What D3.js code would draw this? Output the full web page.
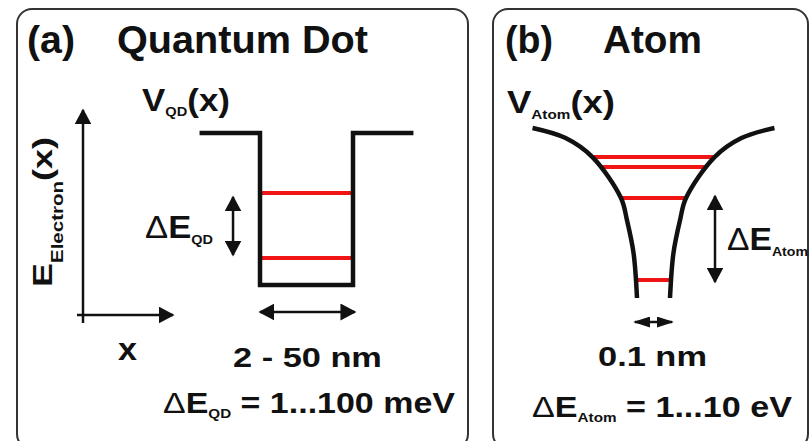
<!DOCTYPE html>
<html>
<head>
<meta charset="utf-8">
<script src="https://cdn.jsdelivr.net/npm/d3@7"></script>
<style>
  body { margin: 0; background: #fff; }
  text { font-family: "Liberation Sans", Arial, Helvetica, sans-serif; font-weight: bold; fill: #111; white-space: pre; }
</style>
</head>
<body>
<div id="wrapper"></div>
<script>
// Quantum dot well: x in half widths of the well, V in barrier heights
const qdWellX = [-2.3, -1, -1, 1, 1, 2.3]
const qdWellV = [1, 1, 0, 0, 1, 1]
const qdLevels = [0.178, 0.605]

// Atom potential, one side: half width (bottom half width = 1) vs energy
const atomHalfWidth = [7.33, 5.33, 3.70, 1.97, 1.61, 1.21, 1.0]
const atomEnergy = [1.0, 0.941, 0.829, 0.588, 0.459, 0.265, 0]
const atomLevels = [0.106, 0.588, 0.771, 0.829]

function drawSketch() {
  // Define Dimensions
    let dimensions = {
        width: 811,
        height: 441,
    }
    const ink = "#111"
    const red = "#f01414"

  // Draw Canvas
    const svg = d3.select("#wrapper")
        .append("svg")
            .attr("width", dimensions.width)
            .attr("height", dimensions.height)
            .style("display", "block")

    const defs = svg.append("defs")
    const marker = (id, len, wid) => {
        defs.append("marker")
            .attr("id", id)
            .attr("viewBox", "0 0 10 10")
            .attr("refX", 9)
            .attr("refY", 5)
            .attr("markerUnits", "userSpaceOnUse")
            .attr("markerWidth", len)
            .attr("markerHeight", wid)
            .attr("preserveAspectRatio", "none")
            .attr("orient", "auto-start-reverse")
          .append("path")
            .attr("d", "M0,0L10,5L0,10Z")
            .attr("fill", ink)
    }
    marker("head", 16, 17)
    marker("small", 17, 11)

    // text with sub scripts, stretched to the width seen in the picture
    const label = (parts, o) => {
        const t = svg.append("text").attr("font-size", o.size)
        let shifted = 0
        parts.forEach(p => {
            const s = p.sub ? o.shift : 0
            t.append("tspan")
                .attr("dy", s - shifted)
                .attr("font-size", p.sub ? o.subSize : o.size)
                .style("font-weight", p.light ? "normal" : "bold")
                .text(p.t)
            shifted = s
        })
        const w = t.node().getComputedTextLength()
        const sx = o.width ? o.width / w : 1
        t.attr("transform", `translate(${o.x},${o.y}) rotate(${o.rotate || 0}) scale(${sx},1)`)
        return t
    }

    const arrow = (x1, y1, x2, y2, head, both) => {
        const l = svg.append("line")
            .attr("x1", x1).attr("y1", y1)
            .attr("x2", x2).attr("y2", y2)
            .attr("stroke", ink)
            .attr("stroke-width", 2.5)
            .attr("marker-end", `url(#${head})`)
        if (both) l.attr("marker-start", `url(#${head})`)
    }

  // Panel frames
    const panels = [
        {x: 17, y: 9, w: 451, h: 440},
        {x: 493, y: 9, w: 315, h: 440},
    ]
    svg.selectAll(".frame")
        .data(panels)
        .join("rect")
            .attr("class", "frame")
            .attr("x", d => d.x)
            .attr("y", d => d.y)
            .attr("width", d => d.w)
            .attr("height", d => d.h)
            .attr("rx", 15)
            .attr("fill", "none")
            .attr("stroke", "#333")
            .attr("stroke-width", 2)

  // (a) Quantum dot
    const xA = d3.scaleLinear().domain([-1, 1]).range([260, 353])
    const yA = d3.scaleLinear().domain([0, 1]).range([285, 133])

    svg.selectAll(".qd-level")
        .data(qdLevels)
        .join("line")
            .attr("class", "qd-level")
            .attr("x1", xA(-1))
            .attr("x2", xA(1))
            .attr("y1", d => yA(d))
            .attr("y2", d => yA(d))
            .attr("stroke", red)
            .attr("stroke-width", 4)

    const wellLine = d3.line()
        .x(i => xA(qdWellX[i]))
        .y(i => yA(qdWellV[i]))
    svg.append("path")
        .attr("d", wellLine(d3.range(qdWellX.length)))
        .attr("fill", "none")
        .attr("stroke", ink)
        .attr("stroke-width", 4.5)
        .attr("stroke-linejoin", "miter")

    // sketch axes
    arrow(83, 323, 83, 110, "head")
    arrow(77, 315, 173, 315, "head")

    // level spacing and width
    arrow(xA(-1.58), yA(qdLevels[1]) + 4, xA(-1.58), yA(qdLevels[0]) - 3, "head", true)
    arrow(xA(-1), 312, xA(1.04), 312, "head", true)

    label([{t: "(a)"}], {x: 27, y: 53, size: 38, width: 48})
    label([{t: "Quantum Dot"}], {x: 117, y: 53, size: 38, width: 251})
    label([{t: "V"}, {t: "QD", sub: true}, {t: "(x)"}],
        {x: 142, y: 111, size: 31, subSize: 13, shift: 5, width: 88})
    label([{t: "E"}, {t: "Electron", sub: true}, {t: "(x)"}],
        {x: 52, y: 287, size: 28, subSize: 16, shift: 11, width: 150, rotate: -90})
    label([{t: "x"}], {x: 118, y: 360, size: 32, width: 19})
    label([{t: "Δ", light: true}, {t: "E"}, {t: "QD", sub: true}],
        {x: 145, y: 238, size: 31, subSize: 13, shift: 6, width: 68})
    label([{t: "2 - 50 nm"}], {x: 233, y: 367, size: 28, width: 149})
    label([{t: "Δ", light: true}, {t: "E"}, {t: "QD", sub: true}, {t: " = 1...100 meV"}],
        {x: 163, y: 413, size: 29, subSize: 13, shift: 5, width: 292})

  // (b) Atom
    const xB = d3.scaleLinear().domain([-1, 1]).range([637, 670])
    const yB = d3.scaleLinear().domain([0, 1]).range([298, 128])

    const sideLine = sign => d3.line()
        .x(i => xB(sign * atomHalfWidth[i]))
        .y(i => yB(atomEnergy[i]))
        .curve(d3.curveCatmullRom)
    const idx = d3.range(atomEnergy.length)

    const levelGroup = svg.append("g")
    const sides = [-1, 1].map(s => svg.append("path")
        .attr("d", sideLine(s)(idx))
        .attr("fill", "none")
        .attr("stroke", ink)
        .attr("stroke-width", 4.5))

    // x of a curve at a given height
    const xAt = (node, y) => {
        let lo = 0, hi = node.getTotalLength()
        for (let k = 0; k < 30; k++) {
            const mid = (lo + hi) / 2
            if (node.getPointAtLength(mid).y < y) lo = mid
            else hi = mid
        }
        return node.getPointAtLength(lo).x
    }

    levelGroup.selectAll("line")
        .data(atomLevels)
        .join("line")
            .attr("x1", d => xAt(sides[0].node(), yB(d)))
            .attr("x2", d => xAt(sides[1].node(), yB(d)))
            .attr("y1", d => yB(d))
            .attr("y2", d => yB(d))
            .attr("stroke", red)
            .attr("stroke-width", 4)

    arrow(715, yB(atomLevels[1]) - 2, 715, yB(atomLevels[0]) + 2, "head", true)
    arrow(xB(-1.13), 322, xB(1.13), 322, "small", true)

    label([{t: "(b)"}], {x: 505, y: 53, size: 38, width: 48})
    label([{t: "Atom"}], {x: 603, y: 53, size: 38, width: 99})
    label([{t: "V"}, {t: "Atom", sub: true}, {t: "(x)"}],
        {x: 507, y: 113, size: 31, subSize: 13, shift: 6, width: 108})
    label([{t: "Δ", light: true}, {t: "E"}, {t: "Atom", sub: true}],
        {x: 727, y: 250, size: 31, subSize: 13, shift: 6, width: 81})
    label([{t: "0.1 nm"}], {x: 598, y: 366, size: 28, width: 109})
    label([{t: "Δ", light: true}, {t: "E"}, {t: "Atom", sub: true}, {t: " = 1...10 eV"}],
        {x: 532, y: 417, size: 29, subSize: 13, shift: 5, width: 260})
}

drawSketch()
</script>
</body>
</html>
